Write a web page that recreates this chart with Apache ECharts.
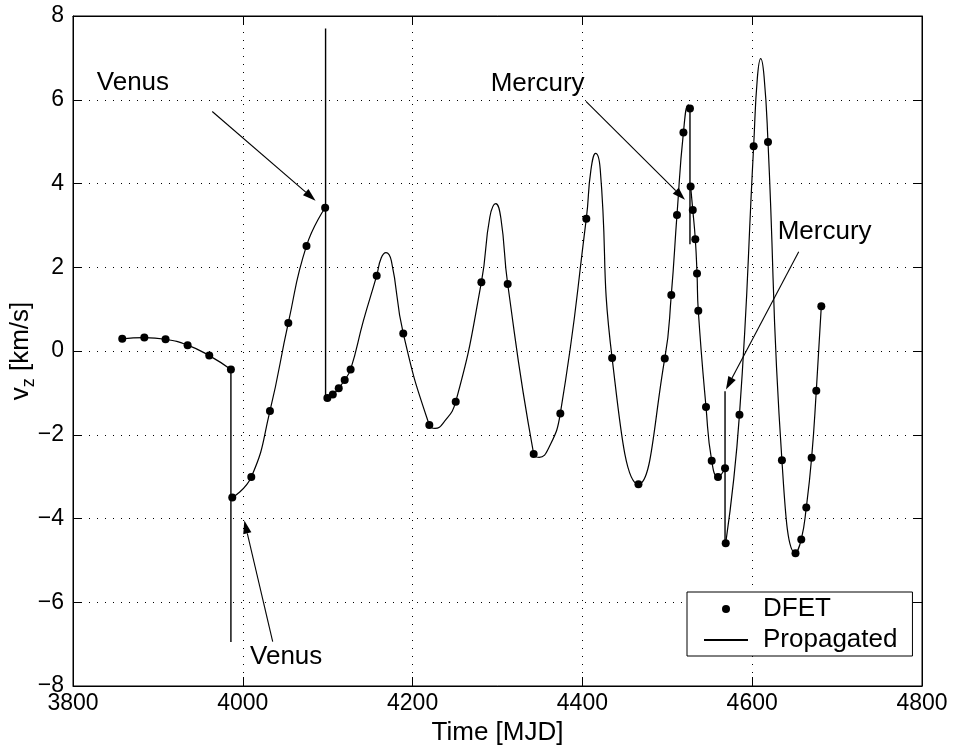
<!DOCTYPE html>
<html>
<head>
<meta charset="utf-8">
<script src="https://cdn.jsdelivr.net/npm/echarts@6/dist/echarts.min.js"></script>
<style>html,body{margin:0;padding:0;background:#fff}#c{width:954px;height:751px}</style>
</head>
<body>
<div id="c"></div>
<script>
// x ticks / y ticks
const xTicks = [3800, 4000, 4200, 4400, 4600, 4800];
const yTicks = [-8, -6, -4, -2, 0, 2, 4, 6, 8];

// DFET nodes [time MJD, vz km/s]
const dfet = [
  [3858,0.29],[3884,0.32],[3909,0.28],[3935,0.14],[3960.5,-0.11],[3986,-0.44],
  [3987.6,-3.50],[4010,-3.01],[4032,-1.43],[4053.6,0.67],[4075,2.51],[4097,3.42],
  [4099.6,-1.12],[4106,-1.04],[4113,-0.89],[4120,-0.69],[4127,-0.44],[4157.7,1.80],[4189,0.42],
  [4219.7,-1.77],[4250.8,-1.21],[4281,1.64],[4312,1.60],[4342.6,-2.46],[4374,-1.49],
  [4404.6,3.16],[4435,-0.17],[4466,-3.18],[4497,-0.18],[4504.7,1.34],[4511.4,3.25],
  [4519,5.22],[4526.7,5.79],
  [4527.5,3.93],[4530,3.37],[4533,2.67],[4535,1.85],[4536.5,0.96],[4545.6,-1.34],
  [4552.3,-2.62],[4559.7,-3.01],[4568,-2.80],
  [4568.8,-4.59],[4585,-1.52],[4601.7,4.89],[4618.6,4.99],[4635,-2.61],[4651,-4.83],
  [4657.8,-4.50],[4663.7,-3.74],[4670,-2.55],[4675.5,-0.95],[4681.4,1.07]
];

// Propagated trajectory arcs
const propA = [[3858,0.29],[3884,0.32],[3909,0.28],[3935,0.14],[3960.5,-0.11],[3986,-0.44]];
const propB = [[3987.6,-3.50],[4010,-3.01],[4032,-1.43],[4053.6,0.67],[4075,2.51],[4097,3.42]];
const propC = [[4099.6,-1.12],[4106,-1.04],[4113,-0.89],[4120,-0.69],[4127,-0.44],[4142,0.72],
  [4157.7,1.80],[4163,2.22],[4168.7,2.35],[4175,2.15],[4189,0.42],[4219.7,-1.77],[4226.4,-1.85],
  [4236,-1.72],[4250.8,-1.21],[4281,1.64],[4291,3.2],[4298,3.52],[4304,3.17],[4312,1.60],
  [4342.6,-2.46],[4349,-2.54],[4360,-2.33],[4374,-1.49],[4404.6,3.16],[4410,4.32],[4415.6,4.72],
  [4421,4.34],[4435,-0.17],[4466,-3.18],[4497,-0.18],[4504.7,1.34],[4511.4,3.25],[4519,5.22],
  [4524.8,5.88],[4526.7,5.79]];
const propD = [[4527.5,3.93],[4530,3.37],[4533,2.67],[4535,1.85],[4536.5,0.96],[4545.6,-1.34],
  [4552.3,-2.62],[4559.7,-3.01],[4568,-2.80]];
const propE = [[4568.8,-4.59],[4585,-1.52],[4601.7,4.89],[4606,6.5],[4610,6.98],[4614,6.55],
  [4618.6,4.99],[4635,-2.61],[4651,-4.83],[4657.8,-4.50],[4663.7,-3.74],[4670,-2.55],
  [4675.5,-0.95],[4681.4,1.07]];
// flyby velocity jumps
const flyby1 = [[3986,-0.44],[3986,-6.95]];
const flyby2 = [[4097.5,7.7],[4097.5,-1.12]];
const flyby3 = [[4526.7,5.85],[4526.7,2.55]];
const flyby4 = [[4568,-0.96],[4568,-4.59]];

// annotations: label, text anchor (data), arrow tail, arrow tip
const annLabels = ['Venus', 'Mercury', 'Venus', 'Mercury'];
const annText = [[3828,6.41],[4292,6.39],[4008.5,-7.30],[4630,2.85]];
const annTail = [[3964,5.72],[4404.2,5.96],[4035.2,-6.94],[4654.8,2.37]];
const annTip = [[4085.7,3.59],[4520.8,3.61],[4001.8,-4.05],[4569.1,-0.92]];

const FONT = 'Liberation Sans, Arial, Helvetica, sans-serif';
const chart = echarts.init(document.getElementById('c'));
const minusFmt = v => String(v).replace('-', '\u2212');

function propSeries(d, w) {
  return {name:'Propagated', type:'line', data:d, symbol:'none', showSymbol:false,
    smooth: d.length > 2 ? 0.5 : false,
    lineStyle:{color:'#000', width:w||1.2}, itemStyle:{color:'#000'}, z:2, silent:true};
}

const annData = annLabels.map((l,i)=>[i]);

const option = {
  animation:false,
  backgroundColor:'#fff',
  grid:{left:73, right:32, top:16, bottom:65, show:true, borderColor:'#000', borderWidth:1,
    backgroundColor:'transparent', containLabel:false, outerBoundsMode:'none'},
  xAxis:[{
    type:'value', min:xTicks[0], max:xTicks[xTicks.length-1], interval:200,
    axisLine:{onZero:false, lineStyle:{color:'#000',width:1}},
    axisTick:{inside:true, length:9, lineStyle:{color:'#000'}},
    axisLabel:{color:'#000', fontSize:23, fontFamily:FONT, margin:6, showMinLabel:true, showMaxLabel:true, formatter:v=>String(v)},
    splitLine:{show:true, lineStyle:{color:'#000', width:1, type:[1,7]}},
    name:'Time [MJD]', nameLocation:'middle', nameGap:34, nameMoveOverlap:false,
    nameTextStyle:{color:'#000', fontSize:26, fontFamily:FONT}
  },{
    type:'value', position:'top', min:xTicks[0], max:xTicks[xTicks.length-1], interval:200,
    axisLine:{onZero:false, lineStyle:{color:'#000'}}, axisTick:{inside:true, length:9, lineStyle:{color:'#000'}},
    axisLabel:{show:false}, splitLine:{show:false}
  }],
  yAxis:[{
    type:'value', min:yTicks[0], max:yTicks[yTicks.length-1], interval:2,
    axisLine:{show:true, onZero:false, lineStyle:{color:'#000',width:1}},
    axisTick:{show:true, inside:true, length:9, lineStyle:{color:'#000'}},
    axisLabel:{color:'#000', fontSize:23, fontFamily:FONT, margin:9, formatter:minusFmt, showMinLabel:true, showMaxLabel:true},
    splitLine:{show:true, lineStyle:{color:'#000', width:1, type:[1,7]}},
    name:'{v|v}{z|z}{v| [km/s]}', nameLocation:'middle', nameGap:35, nameRotate:90, nameMoveOverlap:false,
    nameTextStyle:{color:'#000', fontFamily:FONT, rich:{
      v:{fontSize:26, fontFamily:FONT, color:'#000'},
      z:{fontSize:18, fontFamily:FONT, color:'#000', padding:[16,0,0,0]}
    }}
  },{
    type:'value', position:'right', min:yTicks[0], max:yTicks[yTicks.length-1], interval:2,
    axisLine:{show:true, onZero:false, lineStyle:{color:'#000'}}, axisTick:{show:true, inside:true, length:9, lineStyle:{color:'#000'}},
    axisLabel:{show:false}, splitLine:{show:false}
  }],
  legend:{
    left:687, top:592, orient:'vertical', padding:[4,15,3,16], itemGap:5,
    itemWidth:44, itemHeight:8, borderColor:'#000', borderWidth:1, backgroundColor:'#fff',
    textStyle:{fontSize:26, color:'#000', fontFamily:FONT, padding:[0,0,0,10], lineHeight:26},
    data:[{name:'DFET', icon:'circle'}, {name:'Propagated', itemStyle:{opacity:0}}]
  },
  series:[
    propSeries(propA), propSeries(propB), propSeries(propC), propSeries(propD), propSeries(propE),
    propSeries(flyby1,1.4), propSeries(flyby2,1.4), propSeries(flyby3,1.4), propSeries(flyby4,1.4),
    {name:'DFET', type:'scatter', data:dfet, symbol:'circle', symbolSize:8,
      itemStyle:{color:'#000', opacity:1}, z:5, silent:true},
    {type:'custom', data:annData, z:6, silent:true, clip:false,
      renderItem:function(params, api){
        const i = api.value(0);
        const t = api.coord(annTail[i]), p = api.coord(annTip[i]), tx = api.coord(annText[i]);
        const dx = p[0]-t[0], dy = p[1]-t[1], L = Math.sqrt(dx*dx+dy*dy);
        const ux = dx/L, uy = dy/L, hl = 13, hw = 4.2;
        const bx = p[0]-ux*hl, by = p[1]-uy*hl;
        return {type:'group', children:[
          {type:'line', shape:{x1:t[0], y1:t[1], x2:bx, y2:by}, style:{stroke:'#000', lineWidth:1.1}},
          {type:'polygon', shape:{points:[[p[0],p[1]],[bx-uy*hw, by+ux*hw],[bx+uy*hw, by-ux*hw]]}, style:{fill:'#000'}},
          {type:'text', x:tx[0], y:tx[1], style:{text:annLabels[i], fill:'#000', fontSize:26, fontFamily:FONT, align:'left', verticalAlign:'middle'}}
        ]};
      }}
  ]
};
chart.setOption(option);
</script>
</body>
</html>
